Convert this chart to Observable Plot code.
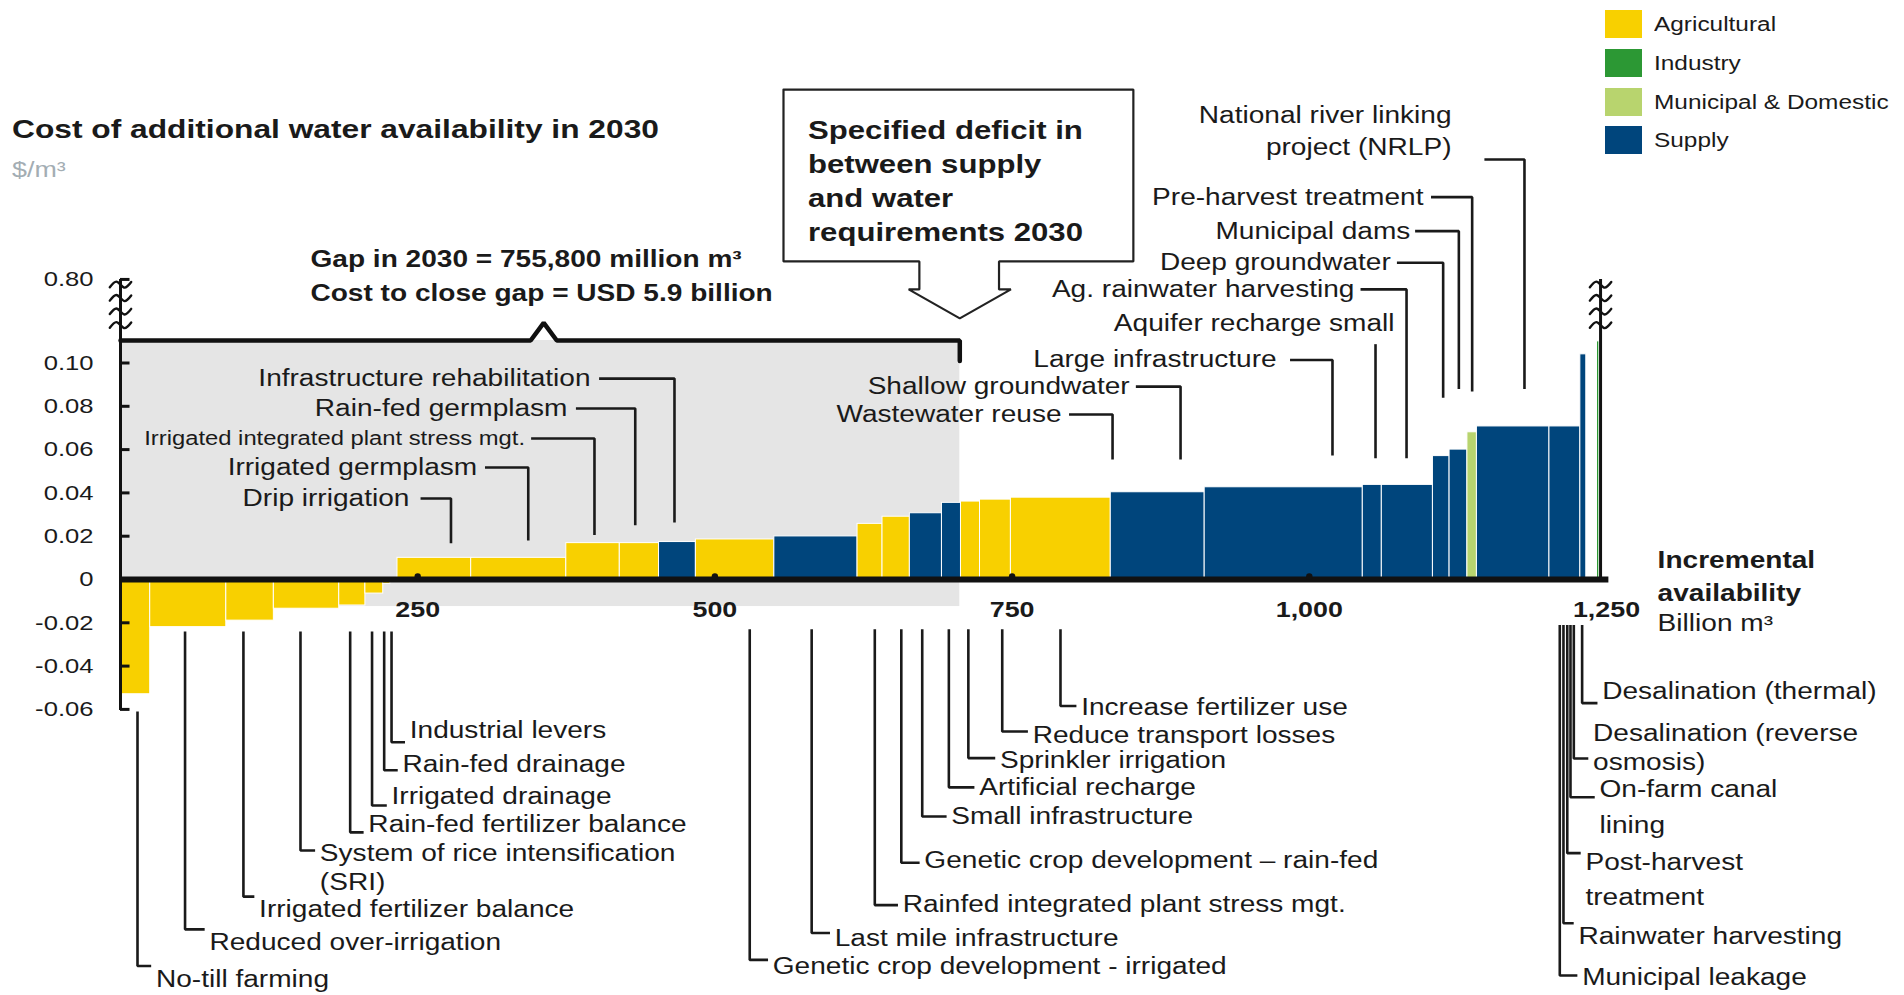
<!DOCTYPE html>
<html>
<head>
<meta charset="utf-8">
<script src="https://cdn.jsdelivr.net/npm/d3@7"></script>
<script src="https://cdn.jsdelivr.net/npm/@observablehq/plot@0.6"></script>
<style>
  html, body { margin: 0; padding: 0; background: #fff; }
  body { font-family: "Liberation Sans", Arial, sans-serif; color: #1a1a1a; }
  #wrap { position: relative; width: 1904px; height: 995px; overflow: hidden; }
  #chart { position: absolute; left: 0; top: 0; }
  .stretch { display: inline-block; transform: scaleX(1.22); transform-origin: 0 50%; white-space: nowrap; }
  #title { position: absolute; left: 12px; top: 116px; font-size: 26px; font-weight: bold; line-height: 26px; color: #1a1a1a; }
  #subtitle { position: absolute; left: 12px; top: 159px; font-size: 22px; line-height: 22px; color: #a3adb3; }
  #legend { position: absolute; left: 1605px; top: 10px; }
  .lg-row { position: absolute; left: 0; height: 28px; width: 300px; }
  .lg-sw { position: absolute; left: 0; top: 0; width: 37px; height: 28px; }
  .lg-tx { position: absolute; left: 49px; top: 0; font-size: 20px; line-height: 28px; color: #1a1a1a; }
</style>
</head>
<body>
<div id="wrap">
  <div id="chart"></div>
  <div id="title"><span class="stretch">Cost of additional water availability in 2030</span></div>
  <div id="subtitle"><span class="stretch">$/m³</span></div>
  <div id="legend"></div>
</div>
<script>
// ---------------- DATA ----------------
const catNames  = ["Agricultural", "Industry", "Municipal & Domestic", "Supply"];
const catColors = ["#f8d000", "#2c9834", "#b8d46e", "#00457c"];

// cost-curve measures (in order along the curve)
const measureNames = [
  "No-till farming", "Reduced over-irrigation", "Irrigated fertilizer balance",
  "System of rice intensification (SRI)", "Rain-fed fertilizer balance", "Irrigated drainage",
  "Rain-fed drainage", "Industrial levers", "Drip irrigation", "Irrigated germplasm",
  "Irrigated integrated plant stress mgt.", "Rain-fed germplasm", "Infrastructure rehabilitation",
  "Genetic crop development - irrigated", "Last mile infrastructure", "Rainfed integrated plant stress mgt.",
  "Genetic crop development – rain-fed", "Small infrastructure", "Artificial recharge",
  "Sprinkler irrigation", "Reduce transport losses", "Increase fertilizer use",
  "Shallow groundwater / Wastewater reuse", "Large infrastructure", "Aquifer recharge small",
  "Ag. rainwater harvesting", "Deep groundwater", "Municipal dams", "Pre-harvest treatment",
  "National river linking project (NRLP)", "Municipal supply levers", "Desalination (thermal)",
  "(none)", "Industrial desalination"
];
const measureCats = [
  "Agricultural","Agricultural","Agricultural","Agricultural","Agricultural","Agricultural",
  "Agricultural","Industry","Agricultural","Agricultural","Agricultural","Agricultural","Supply",
  "Agricultural","Supply","Agricultural","Agricultural","Supply","Supply","Agricultural",
  "Agricultural","Agricultural","Supply","Supply","Supply","Supply","Supply","Supply",
  "Municipal & Domestic","Supply","Supply","Supply","Supply","Industry"
];
// incremental availability, billion m3 (bar widths)
const measureVolumes = [25, 64, 40, 55, 22, 15, 6, 6, 62, 80, 45, 33, 31, 66, 70, 21, 23, 27, 16, 16, 26, 84,
  79, 133, 16, 43, 14, 15, 8, 61, 26, 5, 9, 2];
// cost, $/m3 (values above the axis break are shown capped)
const measureCosts = [-0.053, -0.022, -0.019, -0.0135, -0.012, -0.0065, -0.002, -0.0006, 0.010, 0.010,
  0.0168, 0.0168, 0.0173, 0.0185, 0.0199, 0.0257, 0.029, 0.0306, 0.0354, 0.036, 0.0369, 0.0378,
  0.0403, 0.0426, 0.0437, 0.0437, 0.057, 0.060, 0.068, 0.0707, 0.0707, 0.104, 0, 0.110];

// axes
const yTickValues = [-0.06, -0.04, -0.02, 0, 0.02, 0.04, 0.06, 0.08, 0.10, 0.1386];
const yTickLabels = ["-0.06", "-0.04", "-0.02", "0", "0.02", "0.04", "0.06", "0.08", "0.10", "0.80"];
const xTickValues = [250, 500, 750, 1000, 1250];
const axisBreakAt = [0, 1245];            // x positions of the broken vertical axes
const axisBreakMarks = [0.1175, 0.1238, 0.13, 0.1362];
const xAxisEnd = 1252;
const rightAxisX = 1245;

// gap shading / bracket
const gapShadeEnd = 706;
const gapShadeBottom = -0.0125;
const bracketX = [0, 345, 356, 367, 706, 706];
const bracketY = [0.1104, 0.1104, 0.1185, 0.1104, 0.1104, 0.1009];
const gapTextLines = ["Gap in 2030 = 755,800 million m³", "Cost to close gap = USD 5.9 billion"];
const gapTextX = 159.8, gapTextY = [0.1478, 0.1321];

// callout box with arrow
const calloutX = [557.7, 852, 852, 739, 739, 749, 706, 663, 672, 672, 557.7, 557.7];
const calloutY = [0.2263, 0.2263, 0.1469, 0.1469, 0.134, 0.134, 0.1206, 0.134, 0.134, 0.1469, 0.1469, 0.2263];
const calloutLines = ["Specified deficit in", "between supply", "and water", "requirements 2030"];
const calloutTextX = 578.3, calloutTextY = [0.2074, 0.1917, 0.176, 0.1603];

// axis title
const xTitleLines = ["Incremental", "availability", "Billion m³"];
const xTitleBold = [true, true, false];
const xTitleX = 1293, xTitleY = [0.0088, -0.0065, -0.0203];

// labels above the curve
const topNames = ["Infrastructure rehabilitation", "Rain-fed germplasm", "Irrigated integrated plant stress mgt.",
  "Irrigated germplasm", "Drip irrigation", "Wastewater reuse", "Shallow groundwater", "Large infrastructure",
  "Aquifer recharge small", "Ag. rainwater harvesting", "Deep groundwater", "Municipal dams",
  "Pre-harvest treatment", "National river linking|project (NRLP)"];
const topTextX  = [395.4, 376, 340.3, 300, 243, 791.6, 848.9, 972.5, 1071.7, 1038, 1068.5, 1085, 1096, 1119.6];
const topTextY  = [0.0928, 0.079, 0.0651, 0.0517, 0.0374, 0.0762, 0.0891, 0.1014, 0.1182, 0.134, 0.1463, 0.1609, 0.1766, 0.2141];
const topSmall  = [false, false, true, false, false, false, false, false, false, false, false, false, false, false];
const topLeadStartX = [402.6, 383.1, 345.4, 306.6, 252.4, 797.9, 854.1, 983.8, 1055.7, 1043.1, 1073.7, 1089, 1102.4, 1147.3];
const topLeadY  = [0.0928, 0.079, 0.0651, 0.0517, 0.0374, 0.0762, 0.0891, 0.1014, 0.1087, 0.134, 0.1463, 0.1609, 0.1766, 0.194];
const topLeadX  = [466, 433, 398.7, 343, 278, 834.5, 891.7, 1019.5, 1055.7, 1081.8, 1112.6, 1125.8, 1137, 1181];
const topLeadEndY = [0.0263, 0.0251, 0.0206, 0.018, 0.0167, 0.0554, 0.0554, 0.0573, 0.056, 0.056, 0.084, 0.088, 0.0868, 0.088];

// labels below the curve
const botNames = ["No-till farming", "Reduced over-irrigation", "Irrigated fertilizer balance",
  "System of rice intensification|(SRI)", "Rain-fed fertilizer balance", "Irrigated drainage",
  "Rain-fed drainage", "Industrial levers", "Genetic crop development - irrigated", "Last mile infrastructure",
  "Rainfed integrated plant stress mgt.", "Genetic crop development – rain-fed", "Small infrastructure",
  "Artificial recharge", "Sprinkler irrigation", "Reduce transport losses", "Increase fertilizer use",
  "Desalination (thermal)", "Desalination (reverse|osmosis)", "On-farm canal|lining", "Post-harvest|treatment",
  "Rainwater harvesting", "Municipal leakage"];
const botLeadX = [14.3, 54.3, 103.4, 151.4, 193.2, 211.6, 221.8, 228, 529.3, 581.4, 634.5, 656.8, 674.4,
  696.8, 713.2, 741.7, 790.7, 1229.5, 1222.5, 1219.7, 1217, 1213.8, 1210.7];
const botLeadTopY = [-0.061, -0.024, -0.024, -0.024, -0.024, -0.024, -0.024, -0.024, -0.023, -0.023, -0.023,
  -0.023, -0.023, -0.023, -0.023, -0.023, -0.023, -0.021, -0.021, -0.021, -0.021, -0.021, -0.021];
const botCornerY = [-0.1785, -0.1616, -0.1465, -0.1252, -0.1168, -0.1044, -0.0881, -0.0752, -0.1757, -0.1633,
  -0.1504, -0.1308, -0.1095, -0.096, -0.0825, -0.0702, -0.0584, -0.0571, -0.0827, -0.1006, -0.1264, -0.1588, -0.1829];
const botTextX = [29.8, 74.8, 116.6, 167.7, 208.5, 228, 237.2, 243.3, 548.7, 600.8, 658, 676.2, 698.9, 722.3,
  739.8, 767.3, 808.1, 1246.4, 1238.7, 1244.1, 1232.3, 1226.4, 1229.5];
const botTextY = [-0.1846, -0.1678, -0.1527, -0.1268, -0.1134, -0.1005, -0.0854, -0.0697, -0.179, -0.1661,
  -0.1504, -0.1297, -0.1095, -0.096, -0.0837, -0.0719, -0.059, -0.0516, -0.0711, -0.097, -0.1306, -0.1649, -0.1837];
const botLineGap = [0, 0, 0, 0.0132, 0, 0, 0, 0, 0, 0, 0, 0, 0, 0, 0, 0, 0, 0, 0.0133, 0.0166, 0.0162, 0, 0];

// ---------------- BUILD ----------------
const INK = "#1a1a1a";
const FONT = '"Liberation Sans", Arial, sans-serif';

let acc = 0;
const bars = measureNames.map((name, i) => {
  const d = {name, cat: measureCats[i], x0: acc, x1: acc + measureVolumes[i], v: measureCosts[i]};
  acc += measureVolumes[i];
  return d;
}).filter(d => d.v !== 0);

const yTicks = yTickValues.map((v, i) => ({v, label: yTickLabels[i]}));

const breakPts = [];
axisBreakAt.forEach((ax, a) => axisBreakMarks.forEach((by, b) => {
  const dxs = [-9, -3.5, 3.5, 9], dys = [-0.0012, 0.0014, -0.0014, 0.0012];
  dxs.forEach((dx, k) => breakPts.push({id: a * 10 + b, x: ax + dx, y: by + dys[k]}));
}));

const bracket = bracketX.map((x, i) => ({x, y: bracketY[i]}));
const callout = calloutX.map((x, i) => ({x, y: calloutY[i]}));

const topRows = [], topSmallRows = [], leaderPts = [];
topNames.forEach((n, i) => {
  n.split("|").forEach((line, k) => {
    const row = {t: line, x: topTextX[i], y: topTextY[i] - k * 0.0146};
    (topSmall[i] ? topSmallRows : topRows).push(row);
  });
  const id = "t" + i;
  if (topLeadStartX[i] !== topLeadX[i]) leaderPts.push({id, x: topLeadStartX[i], y: topLeadY[i]});
  leaderPts.push({id, x: topLeadX[i], y: topLeadY[i]});
  leaderPts.push({id, x: topLeadX[i], y: topLeadEndY[i]});
});
const botRows = [];
botNames.forEach((n, i) => {
  n.split("|").forEach((line, k) => botRows.push({t: line, x: botTextX[i], y: botTextY[i] - k * botLineGap[i]}));
  const id = "b" + i;
  leaderPts.push({id, x: botLeadX[i], y: botLeadTopY[i]});
  leaderPts.push({id, x: botLeadX[i], y: botCornerY[i]});
  leaderPts.push({id, x: botTextX[i] - 4, y: botCornerY[i]});
});

const gapRows = gapTextLines.map((t, i) => ({t, x: gapTextX, y: gapTextY[i]}));
const calloutRows = calloutLines.map((t, i) => ({t, x: calloutTextX, y: calloutTextY[i]}));
const xTitleRows = xTitleLines.map((t, i) => ({t, x: xTitleX, y: xTitleY[i], bold: xTitleBold[i]}));

const chart = Plot.plot({
  width: 1904, height: 995,
  marginLeft: 120, marginRight: 298, marginTop: 59.4, marginBottom: 4.65,
  x: {domain: [0, 1250], axis: null},
  y: {domain: [-0.19, 0.24], axis: null},
  color: {domain: catNames, range: catColors},
  style: {fontFamily: FONT, fontSize: "23px", color: INK, background: "transparent", overflow: "visible"},
  marks: [
    // gap shading
    Plot.rect([gapShadeEnd], {x1: 0, x2: d => d, y1: gapShadeBottom, y2: bracketY[0], fill: "#e5e5e5"}),
    // bars
    Plot.rect(bars, {x1: "x0", x2: "x1", y1: 0, y2: "v", fill: "cat", stroke: "white", strokeWidth: 1}),
    // leaders
    Plot.line(leaderPts, {x: "x", y: "y", z: "id", stroke: INK, strokeWidth: 2.6, strokeLinejoin: "miter", strokeLinecap: "butt", curve: "linear"}),
    // green thin line next to right axis (industry, dashed)
    // axes
    Plot.ruleY([0], {x1: 0, x2: xAxisEnd, stroke: "#111", strokeWidth: 6}),
    Plot.ruleX([0], {y1: -0.0605, y2: yTickValues[yTickValues.length - 1], stroke: "#111", strokeWidth: 3}),
    Plot.ruleX([rightAxisX], {y1: 0, y2: yTickValues[yTickValues.length - 1], stroke: "#111", strokeWidth: 3}),
    Plot.ruleY(yTicks, {y: "v", x1: 0, x2: 8, stroke: "#111", strokeWidth: 3}),
    Plot.line(breakPts, {x: "x", y: "y", z: "id", stroke: "#111", strokeWidth: 2.4, curve: "catmull-rom"}),
    Plot.dot(xTickValues.slice(0, 4), {x: d => d, y: 0, r: 3.2, fill: "#111", dy: -3}),
    Plot.text(yTicks, {x: 0, y: "v", text: "label", textAnchor: "end", dx: -27, fontSize: 21, fill: INK}),
    Plot.text(xTickValues, {x: d => d, y: 0, text: d => d3.format(",")(d), dy: 30, fontSize: 22, fontWeight: "bold", fill: INK}),
    // bracket
    Plot.line(bracket, {x: "x", y: "y", stroke: "#111", strokeWidth: 4.5, strokeLinejoin: "miter", curve: "linear"}),
    Plot.text(gapRows, {x: "x", y: "y", text: "t", textAnchor: "start", fontSize: 23, fontWeight: "bold", fill: INK}),
    // callout
    Plot.line(callout, {x: "x", y: "y", fill: "white", stroke: "#222", strokeWidth: 2.2, strokeLinejoin: "miter", curve: "linear"}),
    Plot.text(calloutRows, {x: "x", y: "y", text: "t", textAnchor: "start", fontSize: 25.5, fontWeight: "bold", fill: INK}),
    // labels
    Plot.text(topRows, {x: "x", y: "y", text: "t", textAnchor: "end", fontSize: 23, fill: INK}),
    Plot.text(topSmallRows, {x: "x", y: "y", text: "t", textAnchor: "end", fontSize: 19.5, fill: INK}),
    Plot.text(botRows, {x: "x", y: "y", text: "t", textAnchor: "start", fontSize: 23, fill: INK}),
    // x-axis title
    Plot.text(xTitleRows.filter(d => d.bold), {x: "x", y: "y", text: "t", textAnchor: "start", fontSize: 23, fontWeight: "bold", fill: INK}),
    Plot.text(xTitleRows.filter(d => !d.bold), {x: "x", y: "y", text: "t", textAnchor: "start", fontSize: 23, fill: INK})
  ]
});
document.getElementById("chart").appendChild(chart);

// horizontal stretch of text to match the reference's wide lettering
const STRETCH = 1.22;
chart.querySelectorAll("text").forEach(t => {
  const targets = t.querySelector("tspan") ? Array.from(t.querySelectorAll("tspan")) : [t];
  targets.forEach(el => {
    const L = el.getComputedTextLength();
    if (L > 0) {
      el.setAttribute("textLength", (L * STRETCH).toFixed(2));
      el.setAttribute("lengthAdjust", "spacingAndGlyphs");
    }
  });
});

// legend
const legend = document.getElementById("legend");
catNames.forEach((c, i) => {
  const row = document.createElement("div");
  row.className = "lg-row";
  row.style.top = (i * 38.8) + "px";
  row.innerHTML = `<div class="lg-sw" style="background:${catColors[i]}"></div><div class="lg-tx"><span class="stretch">${c.replace("&", "&amp;")}</span></div>`;
  legend.appendChild(row);
});
</script>
</body>
</html>
